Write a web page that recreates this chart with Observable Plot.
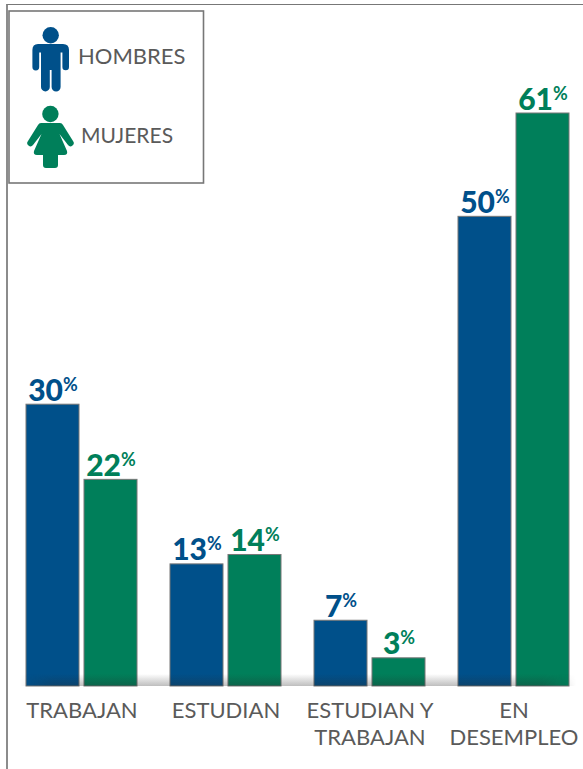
<!DOCTYPE html>
<html>
<head>
<meta charset="utf-8">
<script src="https://cdn.jsdelivr.net/npm/d3@7"></script>
<script src="https://cdn.jsdelivr.net/npm/@observablehq/plot@0.6"></script>
<style>
html,body{margin:0;padding:0;background:#fff;width:583px;height:769px;overflow:hidden}
#wrap{position:relative;width:583px;height:769px}
#wrap>svg,#chart svg{display:block}
#frame{position:absolute;left:6px;top:4px;width:577px;height:765px;border-left:2px solid #8c8c8c;border-top:1px solid #777;box-sizing:border-box}
#shade{position:absolute;left:20px;top:674px;width:556px;height:12px;pointer-events:none;
background:linear-gradient(to bottom,rgba(40,40,40,0),rgba(40,40,40,.3));
-webkit-mask-image:linear-gradient(to right,transparent,#000 6%,#000 94%,transparent);mask-image:linear-gradient(to right,transparent,#000 6%,#000 94%,transparent)}
#legend{position:absolute;left:0;top:0}
</style>
</head>
<body>
<div id="wrap">
<div id="chart"></div>
<div id="shade"></div>
<div id="frame"></div>
<svg id="legend" width="210" height="190" font-family="Lato, sans-serif" font-size="22" fill="#5a5a5a">
  <rect x="9" y="11" width="194.5" height="172" fill="#fff" stroke="#777" stroke-width="1.6"/>
  <g fill="#00508a">
    <circle cx="50.7" cy="35.3" r="8.2"/>
    <path d="M38,44H63Q69,44 69,50V67A3.3,3.3 0 0 1 62.4,67V52.5H60.6V87A4.4,4.4 0 0 1 51.6,87V70H49.8V87A4.4,4.4 0 0 1 41,87V52.5H39.2V67A3.3,3.3 0 0 1 32.4,67V50Q32.4,44 38,44Z"/>
  </g>
  <g fill="#007f5a">
    <circle cx="50.4" cy="114" r="8.2"/>
    <path d="M41,123H60Q62,123 63,125L73,141A3,3 0 0 1 68,145L59.5,134L67,151Q68,155 64,155H58V165Q58,168 55,168H46Q43,168 43,165V155H37Q33,155 34,151L41.5,134L33,145A3,3 0 0 1 28,141L38,125Q39,123 41,123Z"/>
  </g>
  <text x="78" y="64">HOMBRES</text>
  <text x="81" y="143" font-size="21">MUJERES</text>
</svg>
</div>
<script>
const categories = ["TRABAJAN", "ESTUDIAN", "ESTUDIAN Y\nTRABAJAN", "EN\nDESEMPLEO"];
const groups = ["HOMBRES", "MUJERES"];
const hombres = [30, 13, 7, 50];
const mujeres = [22, 14, 3, 61];
const colors = ["#00508a", "#007f5a"];

const rows = categories.flatMap((c, i) => [
  {categoria: c, grupo: groups[0], valor: hombres[i]},
  {categoria: c, grupo: groups[1], valor: mujeres[i]}
]);

const chart = Plot.plot({
  width: 583,
  height: 769,
  marginLeft: 26,
  marginRight: 14,
  marginTop: 113,
  marginBottom: 83,
  style: {background: "transparent", fontFamily: "Lato, sans-serif"},
  fx: {domain: categories, paddingInner: 0.23, paddingOuter: 0, label: null},
  x: {domain: groups, paddingInner: 0.09, paddingOuter: 0, axis: null},
  y: {domain: [0, 61], axis: null},
  color: {domain: groups, range: colors},
  marks: [
    Plot.axisFx({
      anchor: "bottom", tickSize: 0, tickPadding: 13, label: null,
      fontSize: 22, lineHeight: 1.2, fill: "#5a5a5a", lineAnchor: "top"
    }),
    Plot.barY(rows, {
      fx: "categoria", x: "grupo", y: "valor", fill: "grupo",
      stroke: "#777", strokeWidth: 1
    }),
    Plot.text(rows, {
      fx: "categoria", x: "grupo", y: "valor", text: d => String(d.valor),
      fill: "grupo", fontSize: 30, fontWeight: 900, lineAnchor: "bottom", dy: -4,
      className: "valor"
    })
  ]
});

document.getElementById("chart").appendChild(chart);

d3.select(chart).selectAll(".valor text").each(function () {
  d3.select(this).append("tspan")
    .attr("font-size", 18).attr("font-weight", 700).attr("dy", "-0.55em").text("%");
});
</script>
</body>
</html>
